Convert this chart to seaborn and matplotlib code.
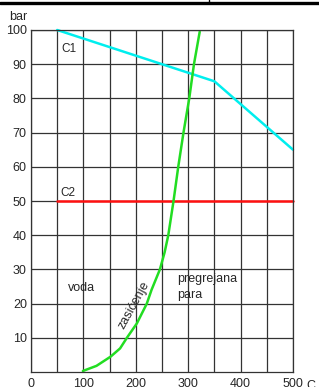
import numpy as np
import pandas as pd
import seaborn as sns
import matplotlib.pyplot as plt
from matplotlib.lines import Line2D
from matplotlib.ticker import MultipleLocator

# Podaci
c1_t = [50, 350, 500]
c1_p = [100, 85, 65]
c2_t = [50, 500]
c2_p = [50, 50]
sat_t = [99, 125, 152, 170, 183, 202, 221, 230, 246, 255, 262,
         272, 281, 291, 302, 311, 322]
sat_p = [0.3, 1.8, 4.5, 6.9, 10, 14.2, 20, 24, 30, 35, 40,
         50, 60, 70, 80, 90, 99.5]
x_ticks = [0, 100, 200, 300, 400, 500]
y_ticks = [10, 20, 30, 40, 50, 60, 70, 80, 90, 100]

sns.set_style('white')
plt.rcParams['font.family'] = ['Liberation Sans', 'DejaVu Sans']

fig = plt.figure(figsize=(3.19, 3.87), dpi=100)
ax = fig.add_axes([31/319, 1 - 372/387, 262/319, 342/387])

sns.lineplot(x=c1_t, y=c1_p, color='#00eeee', lw=1.8, ax=ax, clip_on=False)
sns.lineplot(x=c2_t, y=c2_p, color='#ff1010', lw=1.8, ax=ax, clip_on=False)
sns.lineplot(x=sat_t, y=sat_p, color='#22dd22', lw=1.8, ax=ax, clip_on=False,
             solid_joinstyle='round')

ax.set_xlim(0, 500)
ax.set_ylim(0, 100)
ax.set_xticks(x_ticks)
ax.xaxis.set_minor_locator(MultipleLocator(50))
ax.set_yticks(y_ticks)
ax.grid(True, which='both', color='#333333', lw=0.9)
ax.set_axisbelow(True)
ax.tick_params(axis='both', which='both', length=0, labelsize=9)
ax.tick_params(axis='x', pad=4)
ax.tick_params(axis='y', pad=3)
for s in ax.spines.values():
    s.set_color('#333333')
    s.set_linewidth(0.9)

# Natpisi
ax.text(58, 94.4, 'C1', fontsize=8.5, va='center')
ax.text(57, 52.4, 'C2', fontsize=8.5, va='center')
ax.text(70, 24.7, 'voda', fontsize=9, va='center')
ax.text(279, 27.1, 'pregrejana', fontsize=9, va='center')
ax.text(279, 22.4, 'para', fontsize=9, va='center')
ax.text(196, 19.5, 'zasićenje', fontsize=9, rotation=61,
        ha='center', va='center')
ax.text(-0.015, 1.038, 'bar', transform=ax.transAxes, fontsize=9,
        ha='right', va='center')
ax.text(1.07, -0.024, 'C', transform=ax.transAxes, fontsize=9,
        ha='center', va='top')

# gornja linija
fig.add_artist(Line2D([0, 1], [1 - 2.5/387, 1 - 2.5/387], color='black',
                      lw=2.4, transform=fig.transFigure))
fig.add_artist(Line2D([209/319, 209/319], [1, 1 - 3/387], color='black',
                      lw=1, transform=fig.transFigure))

fig.savefig('out.png', dpi=100)
